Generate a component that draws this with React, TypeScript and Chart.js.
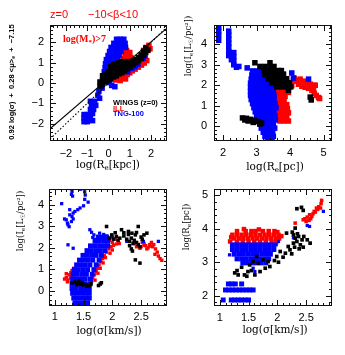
import React, { useEffect, useRef } from "react";
import { Chart, registerables } from "chart.js";
Chart.register(...registerables);

type Pt = [number, number];

const W = 345;
const H = 355;
const RED = "#ff0000";
const BLUE = "#0000ff";
const BLACK = "#000000";

// ---------------- Panel 1: log(Re[kpc]) vs FP combination ----------------
const p1XTicks = [-2, -1, 0, 1, 2];
const p1YTicks = [-2, -1, 0, 1, 2];
const p1FitLine: Pt[] = [[-2.75, -2.25], [2.75, 2.7]];
const p1OneToOne: Pt[] = [[-2.75, -2.75], [2.75, 2.75]];
const p1Wings: Pt[] = [
  [-0.4, -0.15], [-0.4, 0.05],
  [-0.28, -0.05], [-0.28, 0.15], [-0.28, 0.35],
  [-0.15, 0.05], [-0.15, 0.25], [-0.15, 0.45],
  [-0.02, 0.15], [-0.02, 0.35], [-0.02, 0.55],
  [0.11, 0.2], [0.11, 0.4], [0.11, 0.6], [0.11, 0.8],
  [0.24, 0.3], [0.24, 0.5], [0.24, 0.7], [0.24, 0.9],
  [0.37, 0.35], [0.37, 0.55], [0.37, 0.75], [0.37, 0.95],
  [0.5, 0.45], [0.5, 0.65], [0.5, 0.85], [0.5, 1.0],
  [0.63, 0.5], [0.63, 0.7], [0.63, 0.9], [0.63, 1.05],
  [0.76, 0.6], [0.76, 0.8], [0.76, 1.0],
  [0.89, 0.7], [0.89, 0.9], [0.89, 1.05],
  [1.02, 0.8], [1.02, 1.0],
  [1.15, 0.9], [1.15, 1.08],
  [1.28, 1.0], [1.28, 1.15],
  [1.41, 1.1], [1.41, 1.25],
  [1.54, 1.2], [1.54, 1.38],
  [1.65, 1.35], [1.65, 1.55],
  [1.75, 1.5], [1.75, 1.72],
  [1.85, 1.62],
];
const p1Ill: Pt[] = [
  [0.25, 0.3], [0.35, 0.15], [0.5, 0.25], [0.62, 0.3], [0.75, 0.35], [0.88, 0.42],
  [1.0, 0.5], [1.12, 0.6], [1.25, 0.68], [1.4, 0.78], [1.55, 0.88], [1.68, 0.98],
  [1.8, 1.1], [0.55, 0.12], [0.8, 0.2],
  [0.7, 1.55], [0.85, 1.6], [1.0, 1.5], [0.78, 1.35], [0.92, 1.32], [1.05, 1.25],
  [0.85, 1.15], [0.7, 1.2], [1.35, 1.05], [1.45, 0.95],
  [1.65, 1.6], [1.78, 1.75], [1.9, 1.85], [1.85, 1.6], [1.95, 1.68],
];
const p1Tng: Pt[] = [
  [0.38, 2.15], [0.55, 2.15], [0.72, 2.15],
  [0.25, 1.95], [0.42, 1.95], [0.6, 1.95], [0.78, 1.95],
  [0.12, 1.75], [0.3, 1.75], [0.48, 1.75], [0.66, 1.75], [0.8, 1.75],
  [0.05, 1.55], [0.22, 1.55], [0.4, 1.55], [0.58, 1.55],
  [-0.02, 1.35], [0.15, 1.35], [0.32, 1.35], [0.5, 1.35],
  [-0.1, 1.15], [0.08, 1.15], [0.25, 1.15], [0.42, 1.15],
  [-0.14, 0.95], [0.03, 0.95], [0.2, 0.95], [0.36, 0.95],
  [-0.16, 0.75], [0.0, 0.75], [0.16, 0.75],
  [-0.2, 0.55], [-0.03, 0.55], [0.12, 0.55],
  [-0.25, 0.35], [-0.08, 0.35],
  [0.05, 0.02], [0.15, -0.12], [0.3, -0.18], [0.9, 0.55], [1.1, 0.72], [1.25, 0.8],
  [1.38, 0.92], [1.62, 1.22], [1.72, 1.35],
  [-0.3, -0.25], [-0.45, -0.4], [-0.5, -0.6], [-0.42, -0.75],
  [-0.85, -0.9], [-0.65, -0.9], [-0.6, -1.1], [-0.8, -1.1], [-0.7, -1.3], [-0.85, -1.3],
  [-0.75, -1.5],
  [-1.15, -1.55], [-1.0, -1.55], [-1.15, -1.72], [-1.0, -1.72], [-0.85, -1.75],
  [-1.15, -1.9], [-1.0, -1.9], [-0.75, -1.85],
];

// ---------------- Panel 2: log(Re[pc]) vs log(Ie) ----------------
const p2XTicks = [2, 3, 4, 5];
const p2YTicks = [0, 1, 2, 3, 4];
const p2Wings: Pt[] = [
  [2.95, 3.1], [3.4, 3.1],
  [3.1, 2.92], [3.25, 2.92], [3.4, 2.92], [3.52, 2.92],
  [3.22, 2.72], [3.36, 2.72], [3.5, 2.72], [3.64, 2.72], [3.74, 2.72],
  [3.25, 2.52], [3.4, 2.52], [3.54, 2.52], [3.68, 2.52], [3.8, 2.52],
  [3.35, 2.32], [3.5, 2.32], [3.64, 2.32], [3.78, 2.32], [3.9, 2.32],
  [3.45, 2.12], [3.6, 2.12], [3.74, 2.12], [3.88, 2.12], [3.98, 2.12],
  [3.6, 1.92], [3.75, 1.92], [3.9, 1.92], [4.02, 1.92],
  [3.95, 1.75],
  [4.6, 1.42], [4.63, 1.28],
  [2.58, 0.4], [2.7, 0.38], [2.82, 0.33], [2.94, 0.28], [3.06, 0.22], [3.15, 0.15],
  [2.65, 0.3], [2.9, 0.18], [3.1, 0.1], [2.75, 0.25],
];
const p2Ill: Pt[] = [
  [3.55, 2.05], [3.68, 2.05], [3.8, 2.05],
  [3.58, 1.85], [3.7, 1.85], [3.82, 1.85], [3.95, 1.85],
  [3.58, 1.65], [3.7, 1.65], [3.82, 1.65], [3.95, 1.65],
  [3.6, 1.45], [3.72, 1.45], [3.85, 1.45],
  [3.58, 1.25], [3.7, 1.25], [3.82, 1.25],
  [3.55, 1.05], [3.68, 1.05], [3.8, 1.05], [3.9, 1.05],
  [3.55, 0.85], [3.68, 0.85], [3.8, 0.85], [3.92, 0.85],
  [3.6, 0.65], [3.72, 0.65], [3.85, 0.65], [3.95, 0.65],
  [3.65, 0.45], [3.78, 0.45], [3.9, 0.45],
  [3.7, 0.25], [3.82, 0.25], [3.95, 0.25],
  [4.12, 2.35], [4.1, 2.2], [4.2, 2.25], [4.3, 2.3], [4.4, 2.2], [4.5, 2.1], [4.6, 2.05],
  [4.7, 2.0], [4.25, 2.05], [4.35, 1.95], [4.45, 1.9], [4.55, 1.85], [4.65, 1.75],
  [4.72, 1.6], [4.78, 1.5], [4.85, 1.4], [4.7, 1.85], [4.75, 2.0], [4.0, 2.1],
  [4.05, 1.98], [4.88, 1.35],
];
const p2Tng: Pt[] = [
  [1.87, 4.85], [1.87, 4.65], [1.87, 4.45], [1.87, 4.2],
  [2.17, 4.65], [2.17, 4.45], [2.17, 4.25], [2.17, 4.05], [2.17, 3.85], [2.17, 3.65], [2.17, 3.45],
  [2.32, 3.6], [2.32, 3.4], [2.32, 3.2], [2.32, 3.0], [2.25, 3.25],
  [2.47, 2.92], [2.4, 2.88], [2.72, 2.85],
  [2.88, 2.7], [3.02, 2.7], [3.16, 2.7],
  [2.86, 2.5], [3.0, 2.5], [3.14, 2.5], [3.28, 2.5],
  [2.84, 2.3], [2.98, 2.3], [3.12, 2.3], [3.26, 2.3], [3.4, 2.3],
  [2.82, 2.1], [2.96, 2.1], [3.1, 2.1], [3.24, 2.1], [3.38, 2.1], [3.5, 2.1],
  [2.82, 1.9], [2.96, 1.9], [3.1, 1.9], [3.24, 1.9], [3.38, 1.9], [3.5, 1.9],
  [2.82, 1.7], [2.96, 1.7], [3.1, 1.7], [3.24, 1.7], [3.38, 1.7], [3.5, 1.7],
  [2.82, 1.5], [2.96, 1.5], [3.1, 1.5], [3.24, 1.5], [3.38, 1.5], [3.52, 1.5],
  [2.84, 1.3], [2.98, 1.3], [3.12, 1.3], [3.26, 1.3], [3.4, 1.3], [3.52, 1.3],
  [2.88, 1.1], [3.02, 1.1], [3.16, 1.1], [3.3, 1.1], [3.44, 1.1], [3.55, 1.1],
  [2.92, 0.9], [3.06, 0.9], [3.2, 0.9], [3.34, 0.9], [3.48, 0.9], [3.58, 0.9],
  [2.96, 0.7], [3.1, 0.7], [3.24, 0.7], [3.38, 0.7], [3.52, 0.7],
  [3.0, 0.5], [3.14, 0.5], [3.28, 0.5], [3.42, 0.5], [3.55, 0.5],
  [3.04, 0.3], [3.18, 0.3], [3.32, 0.3], [3.46, 0.3], [3.56, 0.3],
  [3.1, 0.1], [3.24, 0.1], [3.38, 0.1], [3.5, 0.1],
  [3.14, -0.1], [3.28, -0.1], [3.42, -0.1], [3.54, -0.1],
  [3.2, -0.3], [3.34, -0.3], [3.48, -0.3],
  [3.25, -0.5], [3.38, -0.5], [3.5, -0.5],
  [3.32, -0.7], [3.46, -0.7],
  [3.8, 2.55], [3.85, 2.3], [4.05, 2.6], [4.1, 2.35], [4.55, 2.3],
];

// ---------------- Panel 3: log(sigma) vs log(Ie) ----------------
const p3XTicks = [1, 1.5, 2, 2.5];
const p3YTicks = [0, 1, 2, 3, 4];
const p3Wings: Pt[] = [
  [1.9, 2.99], [2.16, 2.84], [2.28, 2.76], [2.34, 2.68], [2.42, 2.71], [2.45, 2.99],
  [2.6, 2.68], [1.99, 2.6], [2.07, 2.53], [2.13, 2.45], [2.33, 2.45], [2.38, 2.35],
  [2.42, 2.25], [2.45, 2.15], [2.48, 2.05], [2.36, 2.2], [2.3, 2.3], [2.2, 2.55],
  [2.25, 2.4], [2.1, 2.35], [2.28, 2.62], [2.5, 2.5], [2.55, 2.6], [2.2, 2.7],
  [1.95, 2.45], [2.02, 2.4], [2.3, 2.1], [2.33, 1.95], [2.35, 1.85], [2.4, 1.44],
  [2.48, 1.29], [2.05, 2.7], [2.4, 2.6], [2.52, 2.4],
  [1.3, 0.38], [1.35, 0.42], [1.4, 0.35], [1.45, 0.3], [1.5, 0.28], [1.55, 0.3],
  [1.6, 0.25], [1.63, 0.33], [1.42, 0.45], [1.48, 0.38], [1.38, 0.28], [1.56, 0.22],
  [1.76, 0.25], [1.79, 0.32], [1.81, 0.38],
];
const p3Ill: Pt[] = [
  [1.17, 0.55], [1.2, 0.62], [1.23, 0.5], [1.25, 0.75], [1.28, 0.85], [1.3, 0.65],
  [1.22, 0.42], [1.3, 0.95], [1.33, 1.05], [1.27, 0.6], [1.2, 0.8],
  [1.62, 0.3], [1.64, 0.45], [1.66, 0.6], [1.69, 0.75], [1.72, 0.9], [1.74, 1.05],
  [1.77, 1.2], [1.8, 1.35], [1.83, 1.5], [1.7, 0.5], [1.75, 0.82], [1.79, 1.05],
  [1.84, 1.3], [1.86, 1.65], [1.9, 1.8], [1.94, 1.95], [1.98, 2.05], [2.02, 2.12],
  [2.07, 2.18], [2.12, 2.2], [1.96, 1.75], [2.0, 1.9], [1.88, 1.55],
  [1.82, 2.4], [1.88, 2.3], [1.95, 2.35], [2.0, 2.25], [2.05, 2.4], [1.9, 2.45], [1.75, 2.35],
  [2.45, 2.15], [2.5, 2.05], [2.55, 2.2], [2.58, 2.1], [2.62, 2.0], [2.65, 2.15],
  [2.68, 2.25], [2.7, 2.05], [2.72, 2.15], [2.6, 1.95], [2.75, 1.95], [2.78, 1.8],
  [2.74, 1.7], [2.8, 1.62], [2.83, 1.5], [2.86, 1.42], [2.52, 2.25], [2.42, 2.05],
  [2.48, 1.98], [2.38, 2.2], [2.66, 2.08], [2.56, 2.12],
];
const p3TngCore: Pt[] = [
  [1.4, -0.68], [1.5, -0.68],
  [1.35, -0.55], [1.42, -0.55], [1.5, -0.55], [1.57, -0.55],
  [1.33, -0.33], [1.4, -0.33], [1.48, -0.33], [1.55, -0.33], [1.6, -0.33],
  [1.31, -0.11], [1.38, -0.11], [1.46, -0.11], [1.53, -0.11], [1.6, -0.11],
  [1.3, 0.11], [1.37, 0.11], [1.45, 0.11], [1.52, 0.11], [1.6, 0.11],
  [1.3, 0.33], [1.37, 0.33], [1.45, 0.33], [1.52, 0.33], [1.61, 0.33],
  [1.31, 0.55], [1.38, 0.55], [1.46, 0.55], [1.53, 0.55], [1.62, 0.55],
  [1.32, 0.77], [1.39, 0.77], [1.47, 0.77], [1.55, 0.77], [1.65, 0.77],
  [1.34, 0.99], [1.41, 0.99], [1.49, 0.99], [1.57, 0.99], [1.68, 0.99],
  [1.38, 1.21], [1.45, 1.21], [1.53, 1.21], [1.61, 1.21], [1.72, 1.21],
  [1.43, 1.43], [1.5, 1.43], [1.58, 1.43], [1.66, 1.43], [1.77, 1.43],
  [1.49, 1.65], [1.56, 1.65], [1.64, 1.65], [1.72, 1.65], [1.81, 1.65],
  [1.56, 1.87], [1.63, 1.87], [1.71, 1.87], [1.79, 1.87], [1.87, 1.87],
  [1.62, 2.09], [1.7, 2.09], [1.78, 2.09], [1.86, 2.09], [1.92, 2.09],
  [1.7, 2.31], [1.77, 2.31], [1.85, 2.31], [1.92, 2.31],
  [1.76, 2.5], [1.84, 2.5], [1.9, 2.5],
];
const p3Tng: Pt[] = [
  [1.27, 4.75], [1.3, 4.62], [1.29, 4.48], [1.31, 4.4], [1.45, 4.72], [1.55, 4.78],
  [1.52, 4.6], [1.53, 4.45], [1.52, 4.25], [1.12, 4.05], [1.58, 4.12], [1.5, 3.95],
  [1.44, 3.85], [1.4, 3.77], [1.35, 3.69], [1.32, 3.61], [1.26, 3.53], [1.2, 3.3],
  [1.29, 3.22], [1.23, 3.07], [1.17, 3.34], [1.32, 3.34], [1.26, 3.77], [1.3, 3.45],
  [1.25, 2.98], [1.22, 3.15], [1.61, 2.84], [1.23, 2.14], [1.32, 1.98], [1.64, 2.72],
  [1.68, 2.6], [1.66, 2.48], [1.7, 2.4], [1.78, 2.68], [1.85, 2.62], [1.9, 2.55],
  [1.82, 2.5], [2.25, 2.3], [2.54, 2.3], [2.8, 2.3], [1.95, 2.45], [2.0, 2.5],
];

// ---------------- Panel 4: log(sigma) vs log(Re[pc]) ----------------
const p4XTicks = [1, 1.5, 2, 2.5];
const p4YTicks = [2, 3, 4, 5];
const p4Wings: Pt[] = [
  [1.32, 2.62], [1.43, 2.62], [1.49, 2.72], [1.3, 2.75], [1.38, 2.85], [1.58, 3.02],
  [1.67, 2.97], [1.75, 3.07], [1.84, 3.02], [1.64, 3.17], [1.79, 2.82], [1.87, 2.87],
  [1.52, 2.92], [1.7, 2.72], [1.61, 2.62], [1.26, 2.68], [1.47, 2.58], [1.55, 2.75],
  [1.99, 3.17], [2.05, 3.32], [2.14, 3.27], [2.19, 3.47], [2.22, 3.37], [2.28, 3.57],
  [2.31, 3.72], [2.34, 3.62], [2.37, 3.77], [2.4, 3.52], [2.43, 3.67], [2.46, 3.77],
  [2.52, 3.67], [2.57, 3.57], [2.31, 4.02], [2.34, 4.6], [2.42, 4.64], [2.45, 4.55],
  [2.16, 3.87], [2.26, 3.9], [2.3, 3.45], [2.38, 3.4], [2.25, 3.25], [2.1, 3.15],
  [2.45, 3.45], [2.35, 3.85], [2.28, 3.82], [1.95, 3.05], [2.02, 3.0],
];
const p4IllCore: Pt[] = [
  [1.3, 3.93], [1.45, 3.93], [1.55, 3.93], [1.62, 3.93], [1.75, 3.93], [1.85, 3.93], [1.95, 3.93],
  [1.22, 3.82], [1.3, 3.82], [1.38, 3.82], [1.46, 3.82], [1.54, 3.82], [1.62, 3.82],
  [1.7, 3.82], [1.78, 3.82], [1.86, 3.82], [1.94, 3.82], [2.02, 3.82],
  [1.25, 3.71], [1.33, 3.71], [1.41, 3.71], [1.49, 3.71], [1.57, 3.71], [1.65, 3.71],
  [1.73, 3.71], [1.81, 3.71], [1.89, 3.71], [1.97, 3.71], [2.03, 3.71],
  [1.3, 3.6], [1.4, 3.6], [1.5, 3.6], [1.6, 3.6], [1.7, 3.6], [1.8, 3.6], [1.9, 3.6], [1.98, 3.6],
  [1.18, 3.62], [1.2, 3.75], [2.07, 3.78], [1.42, 3.99], [1.68, 3.98], [2.0, 3.9],
];
const p4Ill: Pt[] = [
  [2.31, 4.17], [2.45, 4.27], [2.48, 4.3], [2.5, 4.22], [2.52, 4.35], [2.55, 4.25],
  [2.56, 4.42], [2.58, 4.3], [2.6, 4.37], [2.62, 4.45], [2.64, 4.52], [2.66, 4.5],
  [2.68, 4.62], [2.7, 4.58], [2.72, 4.66], [2.75, 4.62], [2.76, 4.75], [2.77, 4.85],
];
const p4TngCore: Pt[] = [
  [1.22, 3.52], [1.3, 3.52], [1.38, 3.52], [1.46, 3.52], [1.54, 3.52], [1.62, 3.52],
  [1.7, 3.52], [1.78, 3.52], [1.86, 3.52], [1.94, 3.52],
  [1.22, 3.38], [1.3, 3.38], [1.38, 3.38], [1.46, 3.38], [1.54, 3.38], [1.62, 3.38],
  [1.7, 3.38], [1.78, 3.38], [1.86, 3.38], [1.94, 3.38],
  [1.25, 3.24], [1.33, 3.24], [1.41, 3.24], [1.49, 3.24], [1.57, 3.24], [1.65, 3.24],
  [1.73, 3.24], [1.81, 3.24], [1.88, 3.24],
  [1.3, 3.1], [1.38, 3.1], [1.46, 3.1], [1.54, 3.1], [1.62, 3.1], [1.7, 3.1], [1.78, 3.1], [1.85, 3.1],
  [1.4, 2.98], [1.48, 2.98], [1.56, 2.98], [1.64, 2.98], [1.72, 2.98], [1.8, 2.98],
  [1.06, 1.87], [1.2, 1.87], [1.26, 1.87], [1.32, 1.87], [1.38, 1.87], [1.44, 1.87], [1.5, 1.87],
  [1.1, 2.17], [1.16, 2.17], [1.22, 2.17], [1.28, 2.17], [1.34, 2.17], [1.4, 2.17],
  [1.46, 2.17], [1.52, 2.17], [1.58, 2.17],
  [1.15, 2.35], [1.21, 2.35], [1.27, 2.35], [1.38, 2.35],
];
const p4Tng: Pt[] = [
  [1.17, 3.22], [1.61, 2.72], [1.58, 2.82], [2.28, 3.73], [2.52, 4.1], [2.56, 4.07],
  [2.8, 4.52], [1.98, 3.52], [2.02, 3.62], [1.95, 3.38],
];

// ---------------- helpers ----------------
type TextItem = {
  s: string; x: number; y: number; size: number; family: string;
  weight?: string; color?: string; align?: "left" | "center"; rotate?: boolean;
};

type Panel = {
  box: [number, number, number, number];
  xRange: [number, number];
  yRange: [number, number];
  xTicks: number[];
  yTicks: number[];
  xMinor: number;
  yMinor: number;
  xPad: number;
  yPad: number;
  datasets: any[];
  texts: TextItem[];
};

const pts = (a: Pt[]) => a.map(([x, y]) => ({ x, y }));

function scatterSet(a: Pt[], color: string, radius: number, order: number) {
  return {
    data: pts(a),
    pointStyle: "rect",
    pointRadius: radius,
    pointBorderWidth: 0,
    borderWidth: 0,
    backgroundColor: color,
    pointBackgroundColor: color,
    showLine: false,
    order,
    clip: 0,
  };
}

function lineSet(a: Pt[], dash: number[], order: number) {
  return {
    data: pts(a),
    showLine: true,
    pointRadius: 0,
    borderColor: BLACK,
    borderWidth: 1.1,
    borderDash: dash,
    order,
    clip: 0,
  };
}

const SERIF = "'DejaVu Serif', serif";
const SANS = "'Liberation Sans', Arial, sans-serif";
const LSERIF = "'Liberation Serif', 'Times New Roman', serif";

const PANELS: Panel[] = [
  {
    box: [50, 25, 167, 141],
    xRange: [-2.75, 2.75],
    yRange: [-2.85, 2.85],
    xTicks: p1XTicks,
    yTicks: p1YTicks,
    xMinor: 0.2,
    yMinor: 0.2,
    xPad: 6,
    yPad: 6,
    datasets: [
      lineSet(p1FitLine, [], 0),
      lineSet(p1OneToOne, [1.5, 2], 0),
      scatterSet(p1Wings, BLACK, 3.9, 1),
      scatterSet(p1Tng, BLUE, 3.9, 2),
      scatterSet(p1Ill, RED, 3.9, 3),
    ],
    texts: [
      { s: "z=0", x: 50, y: 15, size: 11, family: SANS, color: RED },
      { s: "\u221210<\u03b2<10", x: 88, y: 15, size: 11, family: SANS, color: RED },
      { s: "log(M_{*})>7", x: 63, y: 39, size: 10, family: LSERIF, weight: "bold", color: RED },
      { s: "WINGS (z=0)", x: 113, y: 103, size: 7.5, family: SANS, weight: "bold", color: BLACK },
      { s: "ILL", x: 113, y: 108.5, size: 7.5, family: SANS, weight: "bold", color: RED },
      { s: "TNG-100", x: 113, y: 114, size: 7.5, family: SANS, weight: "bold", color: BLUE },
      { s: "log(R_{e}[kpc])", x: 108, y: 165, size: 10.5, family: SERIF, align: "center" },
      {
        s: "0.92 log(\u03c3)  +  0.28 <\u03bc>_{e}  +  \u22127.15",
        x: 11.5, y: 82, size: 7.5, family: SANS, weight: "bold", align: "center", rotate: true,
      },
    ],
  },
  {
    box: [214, 25, 332, 141],
    xRange: [1.73, 5.25],
    yRange: [-0.73, 4.95],
    xTicks: p2XTicks,
    yTicks: p2YTicks,
    xMinor: 0.2,
    yMinor: 0.2,
    xPad: 5,
    yPad: 7,
    datasets: [
      scatterSet(p2Wings, BLACK, 3.9, 1),
      scatterSet(p2Tng, BLUE, 3.9, 2),
      scatterSet(p2Ill, RED, 3.9, 3),
    ],
    texts: [
      { s: "log(R_{e}[pc])", x: 275, y: 167, size: 10.5, family: SERIF, align: "center" },
      { s: "log(I_{e}[L_{\u2609}/pc\u00b2])", x: 189, y: 46, size: 8.5, family: SERIF, align: "center", rotate: true },
    ],
  },
  {
    box: [49, 189, 167, 306],
    xRange: [0.9, 2.95],
    yRange: [-0.7, 4.73],
    xTicks: p3XTicks,
    yTicks: p3YTicks,
    xMinor: 0.1,
    yMinor: 0.2,
    xPad: 4,
    yPad: 5,
    datasets: [
      scatterSet(p3Wings, BLACK, 2.5, 1),
      scatterSet(p3TngCore, BLUE, 3.5, 2),
      scatterSet(p3Tng, BLUE, 2.3, 2),
      scatterSet(p3Ill, RED, 2.4, 3),
    ],
    texts: [
      { s: "log(\u03c3[km/s])", x: 109, y: 331, size: 10.5, family: SERIF, align: "center" },
      { s: "log(I_{e}[L_{\u2609}/pc\u00b2])", x: 21, y: 221, size: 8.5, family: SERIF, align: "center", rotate: true },
    ],
  },
  {
    box: [214, 189, 332, 306],
    xRange: [0.9, 2.95],
    yRange: [1.69, 5.19],
    xTicks: p4XTicks,
    yTicks: p4YTicks,
    xMinor: 0.1,
    yMinor: 0.2,
    xPad: 5,
    yPad: 6,
    datasets: [
      scatterSet(p4Wings, BLACK, 2.6, 1),
      scatterSet(p4TngCore, BLUE, 3.5, 2),
      scatterSet(p4Tng, BLUE, 2.3, 2),
      scatterSet(p4IllCore, RED, 3.2, 3),
      scatterSet(p4Ill, RED, 2.5, 3),
    ],
    texts: [
      { s: "log(\u03c3[km/s])", x: 275, y: 330, size: 10.5, family: SERIF, align: "center" },
      { s: "log(R_{e}[pc])", x: 187, y: 227, size: 8.5, family: SERIF, align: "center", rotate: true },
    ],
  },
];

function parseRich(s: string) {
  const segs: { t: string; sub: boolean }[] = [];
  const re = /_\{([^}]*)\}/g;
  let last = 0;
  let m: RegExpExecArray | null;
  while ((m = re.exec(s))) {
    if (m.index > last) segs.push({ t: s.slice(last, m.index), sub: false });
    segs.push({ t: m[1], sub: true });
    last = m.index + m[0].length;
  }
  if (last < s.length) segs.push({ t: s.slice(last), sub: false });
  return segs;
}

function drawText(ctx: CanvasRenderingContext2D, it: TextItem) {
  const segs = parseRich(it.s);
  const weight = it.weight || "normal";
  const fontFor = (sub: boolean) => `${weight} ${sub ? it.size * 0.68 : it.size}px ${it.family}`;
  ctx.save();
  ctx.translate(it.x, it.y);
  if (it.rotate) ctx.rotate(-Math.PI / 2);
  ctx.fillStyle = it.color || BLACK;
  ctx.textBaseline = "middle";
  ctx.textAlign = "left";
  const widths = segs.map((sg) => {
    ctx.font = fontFor(sg.sub);
    return ctx.measureText(sg.t).width;
  });
  const total = widths.reduce((a, b) => a + b, 0);
  let cx = it.align === "center" ? -total / 2 : 0;
  segs.forEach((sg, i) => {
    ctx.font = fontFor(sg.sub);
    ctx.fillText(sg.t, cx, sg.sub ? it.size * 0.3 : 0);
    cx += widths[i];
  });
  ctx.restore();
}

function fmt(v: any) {
  return String(Number(v)).replace("-", "\u2212");
}

function buildConfig(p: Panel): any {
  const [L, T, R, B] = p.box;
  const frame = {
    id: "frame",
    afterDatasetsDraw(chart: any) {
      const { ctx, chartArea: a } = chart;
      const xs = chart.scales.x;
      const ys = chart.scales.y;
      ctx.save();
      ctx.strokeStyle = "#111";
      ctx.lineWidth = 1;
      ctx.beginPath();
      const near = (v: number, arr: number[]) => arr.some((t) => Math.abs(t - v) < 1e-6);
      const xTick = (v: number, len: number) => {
        const px = Math.round(xs.getPixelForValue(v)) + 0.5;
        ctx.moveTo(px, a.bottom);
        ctx.lineTo(px, a.bottom - len);
        ctx.moveTo(px, a.top);
        ctx.lineTo(px, a.top + len);
      };
      const yTick = (v: number, len: number) => {
        const py = Math.round(ys.getPixelForValue(v)) + 0.5;
        ctx.moveTo(a.left, py);
        ctx.lineTo(a.left + len, py);
        ctx.moveTo(a.right, py);
        ctx.lineTo(a.right - len, py);
      };
      for (let k = Math.ceil(p.xRange[0] / p.xMinor - 1e-9); k * p.xMinor <= p.xRange[1] + 1e-9; k++) {
        const v = Math.round(k * p.xMinor * 1000) / 1000;
        xTick(v, near(v, p.xTicks) ? 6 : 3);
      }
      for (let k = Math.ceil(p.yRange[0] / p.yMinor - 1e-9); k * p.yMinor <= p.yRange[1] + 1e-9; k++) {
        const v = Math.round(k * p.yMinor * 1000) / 1000;
        yTick(v, near(v, p.yTicks) ? 6 : 3);
      }
      ctx.stroke();
      ctx.strokeRect(a.left + 0.5, a.top + 0.5, a.right - a.left - 1, a.bottom - a.top - 1);
      ctx.restore();
    },
  };
  const texts = {
    id: "texts",
    afterDraw(chart: any) {
      p.texts.forEach((it) => drawText(chart.ctx, it));
    },
  };
  const tickFont = { family: SANS, size: 11 };
  return {
    type: "scatter",
    data: { datasets: p.datasets },
    options: {
      animation: false,
      responsive: false,
      devicePixelRatio: 1,
      events: [],
      layout: { padding: { left: L - 40, top: T, right: W - R, bottom: H - B - 30 } },
      plugins: { legend: { display: false }, tooltip: { enabled: false } },
      scales: {
        x: {
          type: "linear",
          min: p.xRange[0],
          max: p.xRange[1],
          grid: { display: false, drawTicks: false },
          border: { display: false },
          afterBuildTicks: (s: any) => {
            s.ticks = p.xTicks.map((v) => ({ value: v }));
          },
          afterFit: (s: any) => {
            s.height = 30;
            s.paddingLeft = 0;
            s.paddingRight = 0;
          },
          ticks: {
            font: tickFont, color: BLACK, padding: p.xPad, maxRotation: 0,
            autoSkip: false, callback: (v: any) => fmt(v),
          },
        },
        y: {
          type: "linear",
          min: p.yRange[0],
          max: p.yRange[1],
          grid: { display: false, drawTicks: false },
          border: { display: false },
          afterBuildTicks: (s: any) => {
            s.ticks = p.yTicks.map((v) => ({ value: v }));
          },
          afterFit: (s: any) => {
            s.width = 40;
            s.paddingTop = 0;
            s.paddingBottom = 0;
          },
          ticks: {
            font: tickFont, color: BLACK, padding: p.yPad,
            autoSkip: false, callback: (v: any) => fmt(v),
          },
        },
      },
    },
    plugins: [frame, texts],
  };
}

export default function App() {
  const canvases = useRef<(HTMLCanvasElement | null)[]>([]);
  useEffect(() => {
    const charts = PANELS.map((p, i) => new Chart(canvases.current[i] as HTMLCanvasElement, buildConfig(p)));
    return () => charts.forEach((c) => c.destroy());
  }, []);
  return (
    <div style={{ position: "absolute", left: 0, top: 0, width: W, height: H, background: "#fff" }}>
      {PANELS.map((_, i) => (
        <canvas
          key={i}
          ref={(el) => {
            canvases.current[i] = el;
          }}
          width={W}
          height={H}
          style={{ position: "absolute", left: 0, top: 0, width: W, height: H }}
        />
      ))}
    </div>
  );
}
